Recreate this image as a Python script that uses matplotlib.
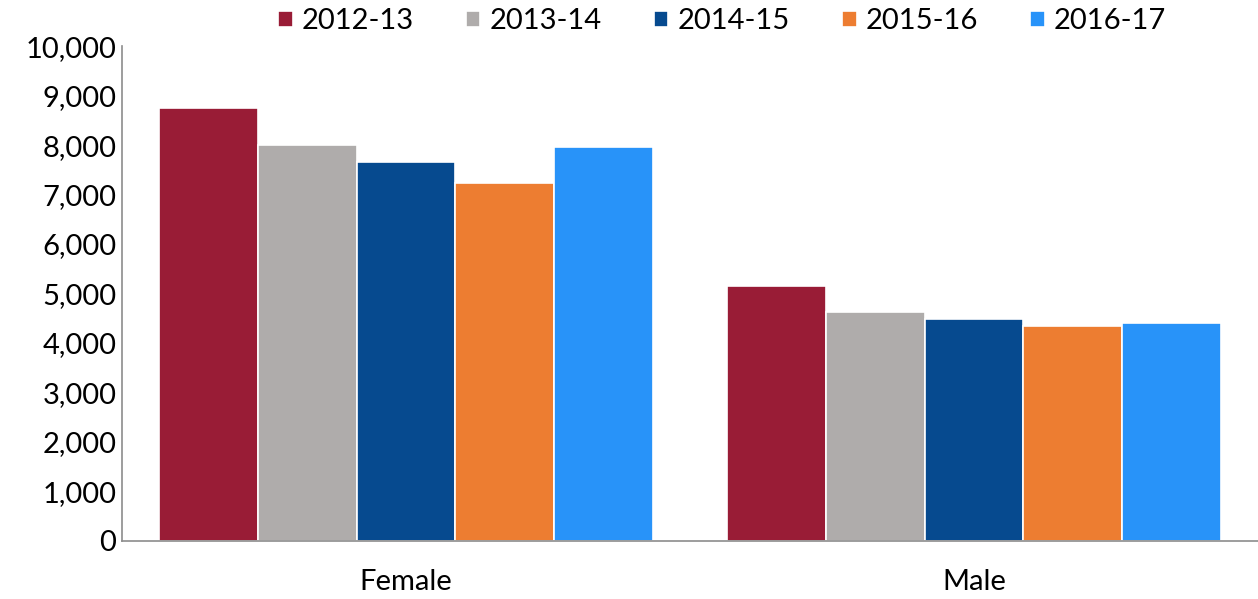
import numpy as np
import matplotlib.pyplot as plt

plt.rcParams['font.family'] = ['Lato', 'DejaVu Sans']

groups = ['Female', 'Male']
years = ['2012-13', '2013-14', '2014-15', '2015-16', '2016-17']
values = {
    '2012-13': [8750, 5160],
    '2013-14': [8000, 4620],
    '2014-15': [7650, 4480],
    '2015-16': [7230, 4340],
    '2016-17': [7970, 4400],
}
colors = ['#991C36', '#AFACAB', '#064A8F', '#ED7D31', '#2893F9']

fig = plt.figure(figsize=(12.58, 5.99), dpi=100)
ax = fig.add_axes([0.097, 0.097, 0.903, 0.826])

x = np.arange(len(groups))
w = 0.174
for i, yr in enumerate(years):
    ax.bar(x + (i - 2) * w, values[yr], width=w, color=colors[i],
           edgecolor='white', linewidth=1.2, label=yr)

ax.set_xlim(-0.5, 1.5)
ax.set_ylim(0, 10000)
ax.set_yticks(np.arange(0, 10001, 1000))
ax.set_yticklabels([f'{v:,}' for v in range(0, 10001, 1000)])
ax.set_xticks(x)
ax.set_xticklabels(groups)
ax.tick_params(axis='both', length=0, labelsize=21)
ax.tick_params(axis='y', pad=4)
ax.tick_params(axis='x', pad=20)

for s in ['top', 'right']:
    ax.spines[s].set_visible(False)
for s in ['left', 'bottom']:
    ax.spines[s].set_color('#8C8C8C')
    ax.spines[s].set_linewidth(1.2)

ax.legend(loc='lower center', bbox_to_anchor=(0.528, 1.0), ncol=5, frameon=False,
          fontsize=21, handlelength=0.5, handleheight=0.5, handletextpad=0.3,
          columnspacing=1.8, borderaxespad=0)

fig.savefig('out.png', dpi=100)
